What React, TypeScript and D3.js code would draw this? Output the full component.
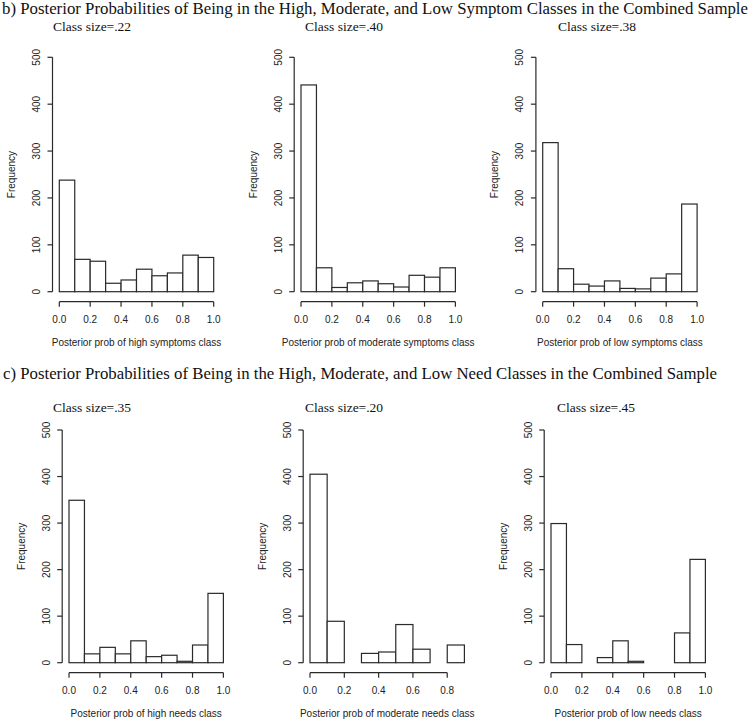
import React from "react";
import * as d3 from "d3";

const binWidth = 0.1;
const highSymptoms = [238, 69, 65, 18, 25, 48, 34, 40, 78, 73];
const moderateSymptoms = [441, 51, 9, 19, 23, 17, 10, 35, 31, 51];
const lowSymptoms = [318, 49, 16, 12, 23, 7, 6, 29, 38, 187];
const highNeeds = [349, 19, 33, 19, 47, 13, 16, 3, 38, 149];
const moderateNeeds = [405, 89, 0, 20, 23, 82, 29, 0, 38];
const lowNeeds = [299, 39, 0, 11, 47, 3, 0, 0, 64, 222];

const titleB =
  "b) Posterior Probabilities of Being in the High, Moderate, and Low Symptom Classes in the Combined Sample";
const titleC =
  "c) Posterior Probabilities of Being in the High, Moderate, and Low Need Classes in the Combined Sample";

const classSizes = [".22", ".40", ".38", ".35", ".20", ".45"];
const xTitles = [
  "Posterior prob of high symptoms class",
  "Posterior prob of moderate symptoms class",
  "Posterior prob of low symptoms class",
  "Posterior prob of high needs class",
  "Posterior prob of moderate needs class",
  "Posterior prob of low needs class",
];
const seriesList = [highSymptoms, moderateSymptoms, lowSymptoms, highNeeds, moderateNeeds, lowNeeds];
const xMax = [1, 1, 1, 1, 0.9, 1];
const yMax = 500;

// layout
const rows = [
  { yTop: 57.3, yBottom: 291.7, axisY: 301.7, classY: 30.7 },
  { yTop: 430, yBottom: 662.7, axisY: 672.7, classY: 411.5 },
];
const x0s = [59.3, 301, 542.7, 69, 310, 551];
const classXs = [53, 305, 558, 53, 305, 557];
const plotW = 154.4;
const stroke = "#2a2a2a";
const sans = "Liberation Sans, Arial, sans-serif";
const serif = "Liberation Serif, Times New Roman, serif";

function Panel({ i }: { i: number }) {
  const row = rows[i < 3 ? 0 : 1];
  const data = seriesList[i];
  const x0 = x0s[i];
  const x = d3.scaleLinear().domain([0, xMax[i]]).range([x0, x0 + plotW]);
  const y = d3.scaleLinear().domain([0, yMax]).range([row.yBottom, row.yTop]);
  const yAxisX = x0 - 6.8;
  const xTicks = x.ticks(5);
  const yTicks = y.ticks(5);
  const fx = d3.format(".1f");
  const midY = (row.yTop + row.yBottom) / 2;
  return (
    <g>
      <text x={classXs[i]} y={row.classY} fontFamily={serif} fontSize={13.5} fill="#111">
        {"Class size=" + classSizes[i]}
      </text>
      {data.map((v, k) => (
        <rect
          key={k}
          x={x(k * binWidth)}
          y={y(v)}
          width={x((k + 1) * binWidth) - x(k * binWidth)}
          height={y(0) - y(v)}
          fill="white"
          stroke={stroke}
          strokeWidth={1.2}
        />
      ))}
      {/* y axis */}
      <line x1={yAxisX} x2={yAxisX} y1={y(0)} y2={y(yMax)} stroke={stroke} strokeWidth={1.2} />
      {yTicks.map((t) => (
        <g key={t}>
          <line x1={yAxisX - 5} x2={yAxisX} y1={y(t)} y2={y(t)} stroke={stroke} strokeWidth={1.2} />
          <text
            transform={`translate(${yAxisX - 12.7},${y(t)}) rotate(-90)`}
            textAnchor="middle"
            fontFamily={sans}
            fontSize={10}
            fill="#222"
          >
            {String(t)}
          </text>
        </g>
      ))}
      <text
        transform={`translate(${yAxisX - 37.7},${midY}) rotate(-90)`}
        textAnchor="middle"
        fontFamily={sans}
        fontSize={10}
        fill="#222"
      >
        Frequency
      </text>
      {/* x axis */}
      <line
        x1={x(xTicks[0])}
        x2={x(xTicks[xTicks.length - 1])}
        y1={row.axisY}
        y2={row.axisY}
        stroke={stroke}
        strokeWidth={1.2}
      />
      {xTicks.map((t) => (
        <g key={t}>
          <line x1={x(t)} x2={x(t)} y1={row.axisY} y2={row.axisY + 5} stroke={stroke} strokeWidth={1.2} />
          <text x={x(t)} y={row.axisY + 21} textAnchor="middle" fontFamily={sans} fontSize={10} fill="#222">
            {fx(t)}
          </text>
        </g>
      ))}
      <text
        x={x0 + plotW / 2}
        y={row.axisY + 44.5}
        textAnchor="middle"
        fontFamily={sans}
        fontSize={10}
        fill="#222"
      >
        {xTitles[i]}
      </text>
    </g>
  );
}

export default function App() {
  return (
    <svg
      width={750}
      height={722}
      style={{ position: "absolute", left: 0, top: 0, background: "white" }}
    >
      <rect width={750} height={722} fill="white" />
      <text x={2} y={14} fontFamily={serif} fontSize={16.5} fill="#111" textLength={746} lengthAdjust="spacingAndGlyphs">
        {titleB}
      </text>
      <text x={3} y={379} fontFamily={serif} fontSize={16.5} fill="#111" textLength={714} lengthAdjust="spacingAndGlyphs">
        {titleC}
      </text>
      {[0, 1, 2, 3, 4, 5].map((i) => (
        <Panel key={i} i={i} />
      ))}
    </svg>
  );
}
